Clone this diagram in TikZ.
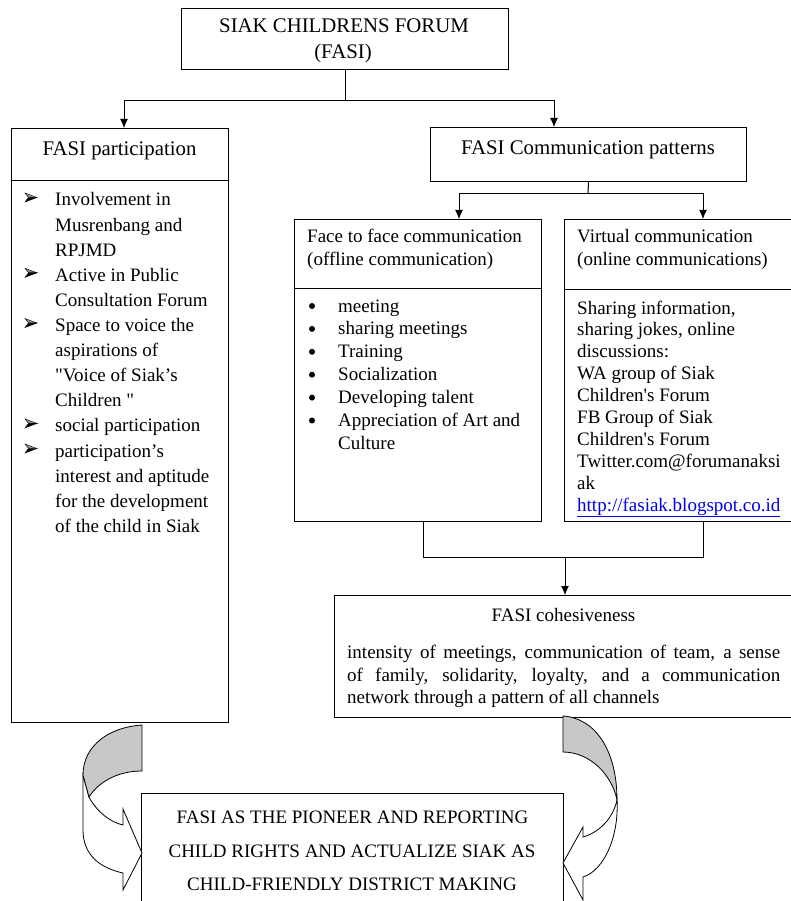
\documentclass[tikz,border=0pt]{standalone}
\usepackage{fontspec}
\setmainfont{Liberation Serif}[Ligatures=TeXOff]
\usetikzlibrary{arrows.meta,calc}
\definecolor{linkblue}{RGB}{0,0,238}
\definecolor{shade}{RGB}{200,200,200}
\tikzset{
  box/.style={draw, line width=1pt, inner sep=0pt, anchor=north west},
  arr/.style={line width=1pt, -{Latex[length=9pt,width=8pt]}},
  ln/.style={line width=1pt},
  txt/.style={inner sep=0pt, font=\fontsize{19}{23}\selectfont},
  ttl/.style={inner sep=0pt, font=\fontsize{20.8}{25}\selectfont},
  dot/.style={circle, fill, inner sep=0pt, minimum size=6pt},
  curv/.style={draw, line width=0.8pt, fill=white},
  curvshade/.style={draw, line width=0.8pt, fill=shade},
  arrowhi/.style={fill=black!45, draw=black, line width=0.4pt, line join=miter},
  arrowlo/.style={fill=black, draw=black, line width=0.4pt, line join=miter},
}
\begin{document}
\begin{tikzpicture}[x=1pt,y=-1pt]
\useasboundingbox (0,0) rectangle (790,901);

% ---------- boxes ----------
\node[box, minimum width=327pt, minimum height=61pt] (top) at (181,8) {};
\node[box, minimum width=217pt, minimum height=594pt] (part) at (11,128) {};
\node[box, minimum width=316pt, minimum height=54pt] (comm) at (430,127) {};
\node[box, minimum width=247pt, minimum height=302pt] (face) at (294,219) {};
\node[box, minimum width=240pt, minimum height=302pt] (virt) at (564,219) {};
\node[box, minimum width=470pt, minimum height=122pt] (coh) at (334,595) {};
\node[box, minimum width=422pt, minimum height=130pt] (fin) at (141,793) {};

% dividers
\draw[ln] (part.west |- 0,181) -- (part.east |- 0,181);
\draw[ln] (face.west |- 0,288) -- (face.east |- 0,288);
\draw[ln] (virt.west |- 0,289) -- (virt.east |- 0,289);

% ---------- connectors ----------
\coordinate (j1) at (345,101);
\coordinate (pin) at (124,128);
\coordinate (cin) at (554,127);
\draw[ln] (top.south) -- (j1);
\draw[arr] (j1) -| (pin);
\draw[arr] (j1) -| (cin);

\coordinate (j2) at (588,194);
\coordinate (fin1) at (459,219);
\coordinate (vin) at (703,219);
\draw[ln] (comm.south) -- (j2);
\draw[arr] (j2) -| (fin1);
\draw[arr] (j2) -| (vin);

\coordinate (fout) at (423,521);
\coordinate (vout) at (703,521);
\coordinate (j3l) at (423,557);
\coordinate (j3r) at (703,557);
\coordinate (j3) at (565,557);
\coordinate (cohin) at (565,595);
\draw[ln] (fout) -- (j3l) -- (j3r) -- (vout);
\draw[arr] (j3) -- (cohin);

% ---------- texts ----------
\node[ttl, anchor=base] (t1) at (344,33) {SIAK CHILDRENS FORUM};
\node[ttl, anchor=base] (t2) at (343,58.5) {(FASI)};
\node[ttl, anchor=base] (pt) at (119.5,156) {FASI participation};
\node[ttl, anchor=base] (ct) at (588,155) {FASI Communication patterns};

% left list
\foreach \t [count=\i from 0] in {{Involvement in},{Musrenbang and},{RPJMD},{Active in Public},{Consultation Forum},{Space to voice the},{aspirations of},{"Voice of Siak’s},{Children "},{social participation},{participation’s},{interest and aptitude},{for the development},{of the child in Siak}}
  \node[txt, anchor=base west] (pl\i) at (55,{206+25.1*\i}) {\t};
\foreach \i in {0,3,5,9,10}{
  \path[arrowhi] (25,{193+25.1*\i}) -- (37,{197.5+25.1*\i}) -- (28.5,{197.5+25.1*\i}) -- cycle;
  \path[arrowlo] (28.5,{197.5+25.1*\i}) -- (37,{197.5+25.1*\i}) -- (25,{202+25.1*\i}) -- cycle;
}

% face to face
\node[txt, anchor=base west] (ft1) at (307,242.5) {Face to face communication};
\node[txt, anchor=base west] (ft2) at (307,265.5) {(offline communication)};
\foreach \t [count=\i from 0] in {{meeting},{sharing meetings},{Training},{Socialization},{Developing talent},{Appreciation of Art and},{Culture}}
  \node[txt, anchor=base west] (fl\i) at (338,{312+22.9*\i}) {\t};
\foreach \i in {0,...,5}
  \node[dot] (fd\i) at (312,{306+22.9*\i}) {};

% virtual
\node[txt, anchor=base west] (vt1) at (577,242.5) {Virtual communication};
\node[txt, anchor=base west] (vt2) at (577,265.5) {(online communications)};
\foreach \t [count=\i from 0] in {{Sharing information,},{sharing jokes, online},{discussions:},{WA group of Siak},{Children's Forum},{FB Group of Siak},{Children's Forum},{Twitter.com@forumanaksi},{ak}}
  \node[txt, anchor=base west] (vl\i) at (577,{314+21.9*\i}) {\t};
\node[txt, anchor=base west, text=linkblue] (link) at (577,511) {\underline{http://fasiak.blogspot.co.id}};

% cohesiveness
\node[txt, anchor=base] (cht) at (563.5,621) {FASI cohesiveness};
\node[txt, anchor=base west] (ch1) at (347,658) {\makebox[433pt][s]{intensity of meetings, communication of team, a sense}};
\node[txt, anchor=base west] (ch2) at (347,681) {\makebox[433pt][s]{of family, solidarity, loyalty, and a communication}};
\node[txt, anchor=base west] (ch3) at (347,703.5) {network through a pattern of all channels};

% final box
\node[txt, anchor=base] (fn1) at (352.5,823) {FASI AS THE PIONEER AND REPORTING};
\node[txt, anchor=base] (fn2) at (352,857) {CHILD RIGHTS AND ACTUALIZE SIAK AS};
\node[txt, anchor=base] (fn3) at (352,890) {CHILD-FRIENDLY DISTRICT MAKING};

% ---------- curved arrows ----------
% left
\path[curv] (83,775) -- (83,830) .. controls (83,855) and (100,868) .. (123,873)
  -- (123,890) -- (142,853) -- (123,809) -- (123,825)
  .. controls (110,822) and (97,812) .. (89,797) -- cycle;
\path[curvshade] (142,725) .. controls (110,727) and (83,745) .. (83,775)
  -- (89,797) .. controls (100,780) and (120,771) .. (142,771) -- cycle;
% right
\path[curv] (617,800) .. controls (619,835) and (605,870) .. (583,877)
  -- (583,900) -- (563,863) -- (583,827) -- (583,837)
  .. controls (600,832) and (613,818) .. (617,800) -- cycle;
\path[curvshade] (563,716) .. controls (595,718) and (617,750) .. (617,800)
  .. controls (612,775) and (590,752) .. (563,752) -- cycle;
\end{tikzpicture}
\end{document}
